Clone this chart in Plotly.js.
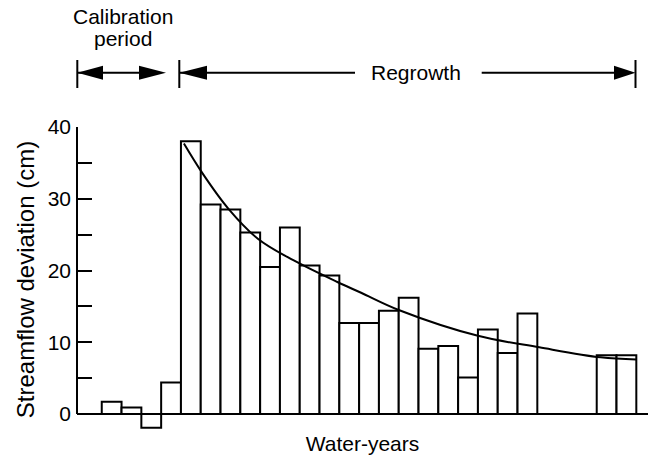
<!DOCTYPE html>
<html>
<head>
<meta charset="utf-8">
<script src="https://cdn.plot.ly/plotly-3.0.1.min.js"></script>
<style>html,body{margin:0;padding:0;background:#fff;}#chart{width:648px;height:460px;}</style>
</head>
<body>
<div id="chart"></div>
<script>
// Water-year index (1..27) and streamflow deviation (cm); null = no record
const years = [1,2,3,4,5,6,7,8,9,10,11,12,13,14,15,16,17,18,19,20,21,22,23,24,25,26,27];
const deviation = [1.7, 0.9, -1.9, 4.4, 38.0, 29.2, 28.5, 25.3, 20.5, 26.0, 20.7, 19.3, 12.7, 12.7, 14.4, 16.2, 9.1, 9.5, 5.1, 11.8, 8.5, 14.0, null, null, null, 8.2, 8.2];
// Fitted recovery curve
const trendX = [4.65, 5.6, 6.9, 8.4, 10.2, 12.4, 13.6, 15.5, 19.5, 22.6, 25.7, 27.5];
const trendY = [37.7, 33.5, 28.6, 24.4, 21.4, 18.4, 16.9, 14.5, 10.9, 9.3, 7.9, 7.6];
const yTicks = [0, 10, 20, 30, 40];
const yTickText = ['0', '10', '20', '30', '40'];

const FONT = 'Liberation Sans, Arial, Helvetica, sans-serif';
const PL = 77, PW = 571, PB = 432, PH = 305;
const px = x => (x - PL) / PW;
const py = y => (PB - y) / PH;

const traces = [
  {
    type: 'bar', x: years, y: deviation, width: 1,
    marker: {color: 'white', line: {color: 'black', width: 2}},
    hoverinfo: 'skip', showlegend: false
  },
  {
    type: 'scatter', mode: 'lines', x: trendX, y: trendY,
    line: {color: 'black', width: 2, shape: 'spline', smoothing: 1},
    cliponaxis: false, hoverinfo: 'skip', showlegend: false
  }
];

const AY = 72.7, HH = 7;
function vline(x) {
  return {type: 'line', xref: 'paper', yref: 'paper', x0: px(x), x1: px(x), y0: py(60), y1: py(88), line: {color: 'black', width: 2}};
}
function hline(a, b) {
  return {type: 'line', xref: 'paper', yref: 'paper', x0: px(a), x1: px(b), y0: py(AY), y1: py(AY), line: {color: 'black', width: 2}};
}
function head(tip, base) {
  return {type: 'path', xref: 'paper', yref: 'paper',
    path: `M ${px(tip)},${py(AY)} L ${px(base)},${py(AY - HH)} L ${px(base)},${py(AY + HH)} Z`,
    fillcolor: 'black', line: {color: 'black', width: 0}};
}

const layout = {
  width: 648, height: 460,
  margin: {l: PL, r: 0, t: 127, b: 28, pad: 0},
  paper_bgcolor: 'white', plot_bgcolor: 'white',
  font: {family: FONT, size: 21, color: 'black'},
  bargap: 0, showlegend: false,
  xaxis: {
    range: [-0.75, 28.09], showgrid: false, zeroline: false,
    showline: false, ticks: '', showticklabels: false, fixedrange: true,
    title: {text: 'Water-years', font: {family: FONT, size: 21, color: 'black'}, standoff: 4}
  },
  yaxis: {
    range: [-2.5, 40], showgrid: false, zeroline: false, showline: false,
    tickmode: 'array', tickvals: yTicks, ticktext: yTickText,
    ticks: 'inside', ticklen: 15, tickwidth: 2, tickcolor: 'black',
    ticklabelstandoff: 5,
    minor: {dtick: 5, ticks: 'inside', ticklen: 15, tickwidth: 2, tickcolor: 'black', showgrid: false},
    tickfont: {family: FONT, size: 21, color: 'black'},
    fixedrange: true,
    title: {text: 'Streamflow deviation (cm)', font: {family: FONT, size: 24, color: 'black'}, standoff: 6}
  },
  shapes: [
    // axis lines: y from 0 to 40, x along zero
    {type: 'line', xref: 'paper', yref: 'y', x0: 0, x1: 0, y0: 0, y1: 40, line: {color: 'black', width: 2}},
    {type: 'line', xref: 'paper', yref: 'y', x0: 0, x1: 1, y0: 0, y1: 0, line: {color: 'black', width: 2}},
    vline(77.3), vline(179.3), vline(635.5),
    hline(77.3, 160), hline(179.3, 355), hline(481.7, 630),
    head(77.3, 103), head(166, 139), head(179.3, 207), head(635.5, 614)
  ],
  annotations: [
    {text: 'Calibration', xref: 'paper', yref: 'paper', x: px(122.5), y: py(16), xanchor: 'center', yanchor: 'middle', showarrow: false, font: {family: FONT, size: 21, color: 'black'}},
    {text: 'period', xref: 'paper', yref: 'paper', x: px(122.5), y: py(38.5), xanchor: 'center', yanchor: 'middle', showarrow: false, font: {family: FONT, size: 21, color: 'black'}},
    {text: 'Regrowth', xref: 'paper', yref: 'paper', x: px(416), y: py(AY), xanchor: 'center', yanchor: 'middle', showarrow: false, font: {family: FONT, size: 21, color: 'black'}}
  ]
};

Plotly.newPlot('chart', traces, layout, {staticPlot: true, displayModeBar: false});
</script>
</body>
</html>
